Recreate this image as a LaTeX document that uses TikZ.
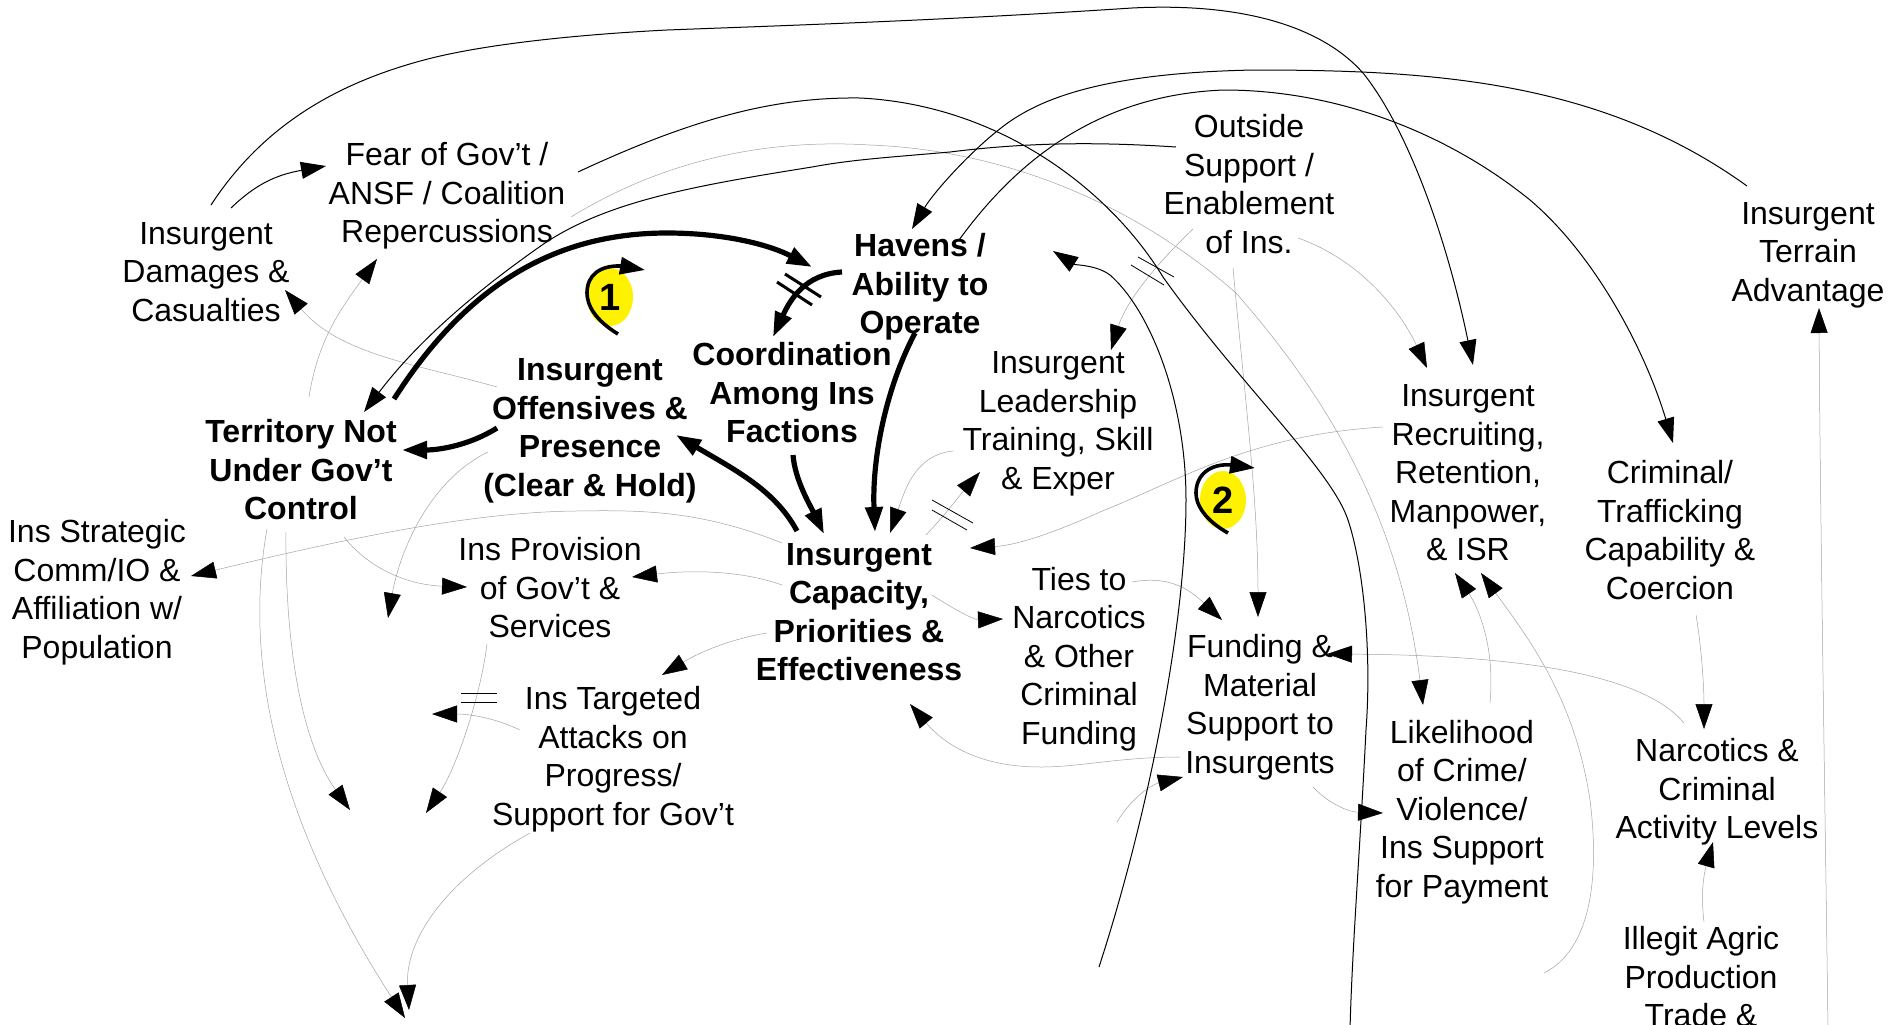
\documentclass[tikz,border=0pt]{standalone}
\usepackage{fontspec}
\setmainfont{Liberation Sans}
\usetikzlibrary{arrows.meta,shapes.geometric}
\tikzset{
  lbl/.style={align=center,inner sep=0pt,font=\fontsize{16}{19.25}\selectfont},
  lblb/.style={align=center,inner sep=0pt,font=\fontsize{16}{19.25}\selectfont\bfseries},
  arr/.style={-{Triangle[length=12.5pt,width=8.5pt,color=black]}},
  blk/.style={draw=black,line width=0.5pt},
  gry/.style={draw=black!36,line width=0.25pt},
  thk/.style={draw=black,line width=2.6pt},
  bar/.style={draw=black,line width=0.4pt},
  thkbar/.style={draw=black,line width=1.5pt},
  loopl/.style={draw=black,line width=1.8pt,-{Triangle[length=12.5pt,width=8.5pt]}},
  badge/.style={ellipse,fill=yellow,inner sep=0pt,minimum width=23pt,minimum height=29pt,font=\fontsize{19}{21}\selectfont\bfseries}
}
\newcommand{\rr}[3]{([shift={(#2,#3)}]#1.center)}
\begin{document}
\begin{tikzpicture}[x=0.5pt,y=-0.5pt]
\fill[white] (0,0) rectangle (1903,1024);
\useasboundingbox (0,0) rectangle (1903,1024);
% badges first (under the loops)
\node[badge] (b1) at (610,297) {1};
\node[badge] (b2) at (1223,500) {2};
% labels
\node[lbl] (dam) at (206,272) {Insurgent\\Damages \&\\Casualties};
\node[lbl] (fear) at (447,196) {Fear of Gov’t /\\ANSF / Coalition\\Repercussions};
\node[lbl] (out) at (1249,184) {Outside\\Support /\\Enablement\\of Ins.};
\node[lblb] (hav) at (920,287) {Havens /\\Ability to\\Operate};
\node[lbl] (ter) at (1808,255) {Insurgent\\Terrain\\Advantage};
\node[lblb] (off) at (590,431) {Insurgent\\Offensives \&\\Presence\\(Clear \& Hold)};
\node[lblb] (crd) at (792,393) {Coordination\\Among Ins\\Factions};
\node[lblb] (terr) at (301,470) {Territory Not\\Under Gov’t\\Control};
\node[lbl] (lead) at (1058,424) {Insurgent\\Leadership\\Training, Skill\\\& Exper};
\node[lbl] (rec) at (1468,473) {Insurgent\\Recruiting,\\Retention,\\Manpower,\\\& ISR};
\node[lbl] (crim) at (1670,530) {Criminal/\\Trafficking\\Capability \&\\Coercion};
\node[lbl] (strat) at (97,592) {Ins Strategic\\Comm/IO \&\\Affiliation w/\\Population};
\node[lbl] (prov) at (550,588) {Ins Provision\\of Gov’t \&\\Services};
\node[lblb] (cap) at (859,612) {Insurgent\\Capacity,\\Priorities \&\\Effectiveness};
\node[lbl] (ties) at (1079,659) {Ties to\\Narcotics\\\& Other\\Criminal\\Funding};
\node[lbl] (fund) at (1260,707) {Funding \&\\Material\\Support to\\Insurgents};
\node[lbl] (targ) at (613,759) {Ins Targeted\\Attacks on\\Progress/\\Support for Gov’t};
\node[lbl] (like) at (1462,812) {Likelihood\\of Crime/\\Violence/\\Ins Support\\for Payment};
\node[lbl] (narc) at (1717,792) {Narcotics \&\\Criminal\\Activity Levels};
\node[lbl] (ill) at (1701,977) {Illegit Agric\\Production\\Trade \&};
% free ends
\coordinate (e3) at (1350,1030);
\coordinate (s7) at (1099,967);
\coordinate (s31) at (1117,822);
\coordinate (s33) at (1544,973);
\coordinate (s37) at (1828,1030);
\coordinate (t38) at (405,1018);
\coordinate (t39) at (350,810);
\coordinate (t40) at (388,618);
\coordinate (t41) at (426,813);
\coordinate (t42) at (432,714);
\coordinate (t43) at (409,1010);
\coordinate (l1s) at (618,334);
\coordinate (l1t) at (645,270);
\coordinate (l2s) at (1228,533);
\coordinate (l2t) at (1255,468);
% grey connectors
\draw[gry,arr] \rr{terr}{8}{-73} .. controls (318,340) and (340,310) .. \rr{fear}{-70}{63};
\draw[gry,arr] \rr{off}{-93}{-44} .. controls (420,365) and (340,355) .. \rr{dam}{79}{18};
\draw[gry,arr] \rr{fear}{124}{21} .. controls (680,150) and (790,140) .. (870,145) .. controls (1000,150) and (1130,200) .. (1236,293) .. controls (1330,400) and (1400,520) .. \rr{like}{-39}{-107};
\draw[gry,arr] \rr{out}{49}{54} .. controls (1360,260) and (1400,310) .. \rr{rec}{-41}{-105};
\draw[gry,arr] \rr{out}{-56}{45} .. controls (1150,270) and (1125,305) .. \rr{lead}{53}{-74};
\draw[gry,arr] \rr{out}{-16}{84} .. controls (1245,400) and (1258,500) .. \rr{fund}{-2}{-90};
\draw[gry,arr] \rr{rec}{-85}{-46} .. controls (1250,435) and (1180,480) .. (1100,512) .. controls (1060,530) and (1020,545) .. \rr{cap}{111}{-64};
\draw[gry,arr] \rr{cap}{67}{-77} .. controls (945,515) and (960,495) .. \rr{lead}{-78}{48};
\draw[gry,arr] \rr{lead}{-105}{27} .. controls (915,455) and (905,490) .. \rr{cap}{31}{-79};
\draw[gry,arr] \rr{cap}{-77}{-69} .. controls (700,510) and (640,510) .. (576,511) .. controls (470,512) and (340,540) .. \rr{strat}{94}{-16};
\draw[gry,arr] \rr{terr}{43}{67} .. controls (370,570) and (410,585) .. \rr{prov}{-83}{-1};
\draw[gry,arr] \rr{cap}{-77}{-27} .. controls (740,570) and (690,570) .. \rr{prov}{82}{-11};
\draw[gry,arr] \rr{cap}{-92}{21} .. controls (725,640) and (695,655) .. \rr{targ}{49}{-84};
\draw[gry,arr] \rr{fund}{-80}{50} .. controls (1120,757) and (1080,767) .. (1041,767) .. controls (980,767) and (945,745) .. \rr{cap}{51}{92};
\draw[gry,arr] \rr{cap}{73}{-17} .. controls (955,610) and (975,620) .. \rr{ties}{-76}{-40};
\draw[gry,arr] \rr{ties}{53}{-77} .. controls (1170,575) and (1190,590) .. \rr{fund}{-38}{-87};
\draw[gry,arr] \rr{fund}{53}{80} .. controls (1330,805) and (1350,812) .. \rr{like}{-79}{1};
\draw[gry,arr] (s31) .. controls (1130,800) and (1150,785) .. \rr{fund}{-77}{70};
\draw[gry,arr] \rr{like}{28}{-109} .. controls (1495,650) and (1480,610) .. \rr{rec}{-13}{100};
\draw[gry,arr] (s33) .. controls (1590,950) and (1600,880) .. (1590,800) .. controls (1575,700) and (1530,640) .. \rr{rec}{13}{100};
\draw[gry,arr] \rr{crim}{26}{85} .. controls (1702,650) and (1704,690) .. \rr{narc}{-13}{-63};
\draw[gry,arr] \rr{narc}{-33}{-69} .. controls (1640,670) and (1500,655) .. \rr{fund}{67}{-53};
\draw[gry,arr] \rr{ill}{3}{-55} .. controls (1700,890) and (1705,870) .. \rr{narc}{-4}{50};
\draw[gry,arr] (s37) .. controls (1825,800) and (1820,500) .. \rr{ter}{11}{53};
\draw[gry,arr] \rr{terr}{-34}{59} .. controls (240,680) and (290,840) .. (t38);
\draw[gry,arr] \rr{terr}{-15}{62} .. controls (285,640) and (300,740) .. (t39);
\draw[gry,arr] \rr{off}{-102}{21} .. controls (430,480) and (400,550) .. (t40);
\draw[gry,arr] \rr{prov}{-63}{56} .. controls (480,700) and (455,770) .. (t41);
\draw[gry,arr] \rr{targ}{-93}{-29} .. controls (495,718) and (470,714) .. (t42);
\draw[gry,arr] \rr{targ}{-83}{74} .. controls (445,880) and (405,940) .. (t43);
% thin black connectors
\draw[blk,arr] \rr{dam}{5}{-67} .. controls (260,130) and (330,85) .. (424,60) .. controls (480,45) and (570,35) .. (667,30) .. controls (800,25) and (950,20) .. (1132,8) .. controls (1250,2) and (1325,30) .. (1363,73) .. controls (1405,125) and (1445,230) .. \rr{rec}{5}{-108};
\draw[blk,arr] \rr{dam}{25}{-64} .. controls (255,185) and (275,175) .. \rr{fear}{-121}{-30};
\draw[blk] \rr{fear}{131}{-24} .. controls (700,115) and (780,97) .. (860,98) .. controls (1000,105) and (1110,190) .. (1163,277) .. controls (1240,385) and (1331,469) .. (1348,520) .. controls (1363,565) and (1372,650) .. (1366,730) .. controls (1360,850) and (1352,950) .. (e3);
\draw[blk,arr] \rr{out}{-73}{-37} .. controls (1100,142) and (1030,142) .. (950,152) .. controls (880,158) and (850,160) .. (812,167) .. controls (700,185) and (610,200) .. (545,243) .. controls (470,295) and (415,345) .. \rr{terr}{63}{-58};
\draw[blk,arr] \rr{ter}{-61}{-69} .. controls (1600,80) and (1430,70) .. (1254,70) .. controls (1150,72) and (1070,85) .. (1020,115) .. controls (985,135) and (935,190) .. \rr{hav}{-8}{-58};
\draw[blk,arr] \rr{hav}{39}{-47} .. controls (1010,170) and (1090,95) .. (1224,90) .. controls (1340,90) and (1450,135) .. (1530,200) .. controls (1595,255) and (1645,350) .. \rr{crim}{3}{-87};
\draw[blk,arr] (s7) .. controls (1150,810) and (1186,620) .. (1186,500) .. controls (1186,400) and (1150,310) .. (1110,275) .. controls (1097,265) and (1075,265) .. \rr{hav}{133}{-36};
% thick connectors
\draw[thk,arr] \rr{terr}{93}{-71} .. controls (470,280) and (560,233) .. (667,233) .. controls (725,233) and (770,245) .. \rr{hav}{-108}{-20};
\draw[thk,arr] \rr{hav}{-78}{-15} .. controls (805,274) and (790,300) .. \rr{crd}{-19}{-56};
\draw[thk,arr] \rr{off}{-93}{-3} .. controls (470,445) and (440,450) .. \rr{terr}{101}{-20};
\draw[thk,arr] \rr{cap}{-62}{-81} .. controls (775,490) and (735,470) .. \rr{off}{86}{4};
\draw[thk,arr] \rr{crd}{1}{62} .. controls (795,480) and (810,505) .. \rr{cap}{-35}{-78};
\draw[thk,arr] \rr{hav}{-5}{46} .. controls (885,390) and (872,460) .. \rr{cap}{16}{-80};
% delay bars
\draw[thkbar] (777,282) -- (812,305);
\draw[thkbar] (785,274) -- (821,297);
\draw[bar] (1138,257) -- (1174,277);
\draw[bar] (1131,265) -- (1164,285);
\draw[bar] (932,500) -- (973,523);
\draw[bar] (932,510) -- (967,530);
\draw[bar] (461,693) -- (497,693);
\draw[bar] (461,702) -- (497,702);
% loop markers
\draw[loopl] (l1s) .. controls (595,320) and (587,305) .. (587,293) .. controls (587,275) and (600,265) .. (622,266) -- (l1t);
\draw[loopl] (l2s) .. controls (1205,520) and (1196,505) .. (1196,493) .. controls (1196,475) and (1210,463) .. (1232,465) -- (l2t);
\end{tikzpicture}
\end{document}
